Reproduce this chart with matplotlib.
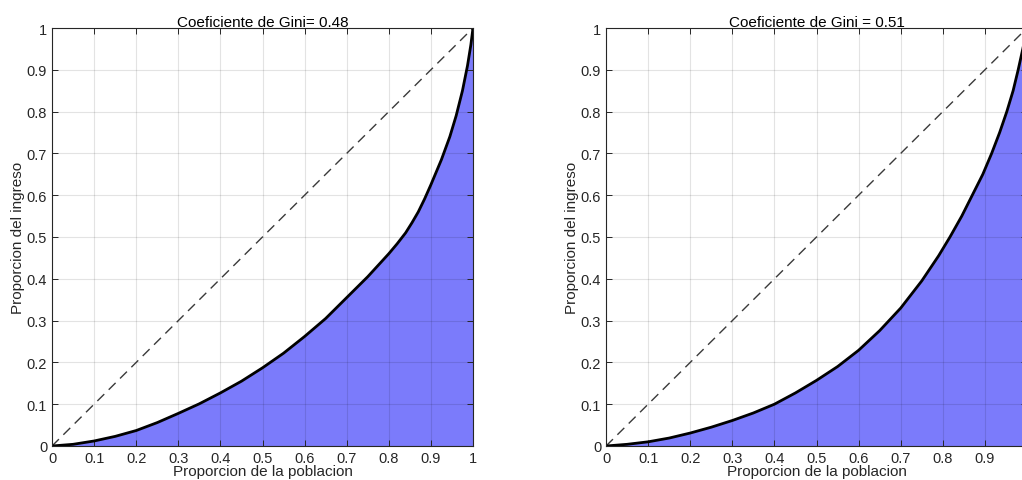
import matplotlib.pyplot as plt

plt.rcParams['font.family'] = ['Liberation Sans', 'DejaVu Sans']

##########Data
# left panel, Gini 0.48
pob_izq = [0.0, 0.05, 0.1, 0.15, 0.2, 0.25, 0.3, 0.35, 0.4, 0.45, 0.5, 0.55, 0.6, 0.65, 0.7,
           0.75, 0.8, 0.82, 0.84, 0.855, 0.87, 0.885, 0.9, 0.925, 0.945, 0.96, 0.975, 0.987, 0.995, 1.0]
ing_izq = [0.0, 0.004, 0.012, 0.023, 0.037, 0.056, 0.078, 0.101, 0.127, 0.155, 0.187, 0.222, 0.262, 0.305, 0.355,
           0.405, 0.46, 0.484, 0.51, 0.534, 0.56, 0.591, 0.625, 0.685, 0.74, 0.79, 0.85, 0.91, 0.96, 1.0]
# right panel, Gini 0.51
pob_der = [0.0, 0.05, 0.1, 0.15, 0.2, 0.25, 0.3, 0.35, 0.4, 0.45, 0.5, 0.55, 0.6, 0.65, 0.7,
           0.75, 0.79, 0.817, 0.845, 0.87, 0.895, 0.916, 0.935, 0.952, 0.967, 0.979, 0.99, 1.0]
ing_der = [0.0, 0.004, 0.010, 0.019, 0.031, 0.045, 0.061, 0.079, 0.100, 0.127, 0.157, 0.19, 0.229, 0.276, 0.33,
           0.395, 0.455, 0.5, 0.55, 0.6, 0.65, 0.7, 0.75, 0.8, 0.85, 0.9, 0.95, 1.0]
titulos = ['Coeficiente de Gini= 0.48', 'Coeficiente de Gini = 0.51']
ticks = [0, 0.1, 0.2, 0.3, 0.4, 0.5, 0.6, 0.7, 0.8, 0.9, 1]
tick_lbl = ['0', '0.1', '0.2', '0.3', '0.4', '0.5', '0.6', '0.7', '0.8', '0.9', '1']
# the right panel runs off the image, its "1" is not visible
tick_lbl_der = tick_lbl[:-1] + ['']

#####
fig = plt.figure(figsize=(10.22, 4.81), dpi=100)
ax1 = fig.add_axes([0.0509, 0.0707, 0.4119, 0.8690])
ax2 = fig.add_axes([0.5930, 0.0707, 0.4119, 0.8690])

paneles = [(ax1, pob_izq, ing_izq, titulos[0], tick_lbl),
           (ax2, pob_der, ing_der, titulos[1], tick_lbl_der)]

for ax, x, y, tit, xlbl in paneles:
    ax.fill_between(x, y, 0, color='#7b7bfb', lw=0, zorder=1)
    ax.plot([0, 1], [0, 1], color='#3a3a3a', lw=1.0, dashes=(7, 4.5), zorder=3)
    ax.plot(x, y, color='black', lw=2.0, zorder=4)
    ax.set_xlim(0, 1)
    ax.set_ylim(0, 1)
    ax.set_xticks(ticks)
    ax.set_yticks(ticks)
    ax.set_xticklabels(xlbl)
    ax.set_yticklabels(tick_lbl)
    ax.set_axisbelow(False)
    ax.grid(True, color='black', alpha=0.11, lw=0.8, zorder=2)
    ax.tick_params(direction='in', length=4, width=0.7, top=True, right=True,
                   labelsize=10.5, colors='#262626', labelcolor='#262626', pad=3.5)
    for s in ax.spines.values():
        s.set_color('#262626')
        s.set_linewidth(0.8)
        s.set_zorder(5)
    ax.set_title(tit, fontsize=11, color='black', pad=1.5)
    ax.set_xlabel('Proporcion de la poblacion', fontsize=11, color='#262626')
    ax.set_ylabel('Proporcion del ingreso', fontsize=11, color='#262626')
    ax.xaxis.set_label_coords(0.5, -0.043)
    ax.yaxis.set_label_coords(-0.064, 0.5)

plt.savefig('out.png', dpi=100)
